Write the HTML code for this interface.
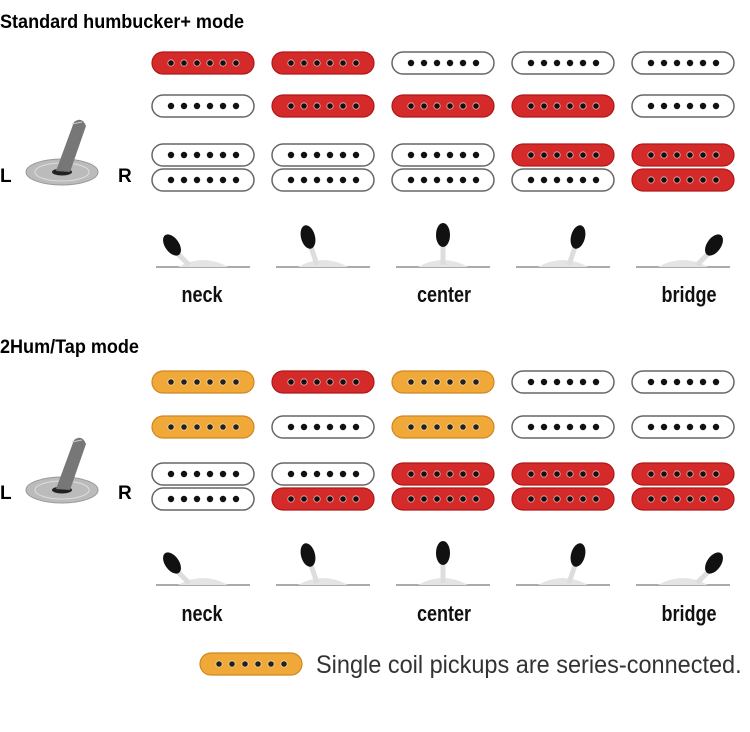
<!DOCTYPE html>
<html><head><style>
body{margin:0;background:#fff;}
svg text{font-family:"Liberation Sans",sans-serif;}
</style></head><body>
<svg width="750" height="727" viewBox="0 0 750 727" xmlns="http://www.w3.org/2000/svg">
<defs>
<g id="dots">
<circle cx="20" cy="12" r="3.2"/><circle cx="33" cy="12" r="3.2"/><circle cx="46" cy="12" r="3.2"/><circle cx="59" cy="12" r="3.2"/><circle cx="72" cy="12" r="3.2"/><circle cx="85" cy="12" r="3.2"/>
</g>
<g id="pw"><rect x="1" y="1" width="102" height="22" rx="11" fill="#fff" stroke="#666" stroke-width="1.5"/><use href="#dots" fill="#111"/></g>
<g id="pr"><rect x="1" y="1" width="102" height="22" rx="11" fill="#d42a2a" stroke="#b01818" stroke-width="1.2"/><use href="#dots" fill="#111" stroke="#f0b0b0" stroke-width="0.8"/></g>
<g id="po"><rect x="1" y="1" width="102" height="22" rx="11" fill="#f0a838" stroke="#d08820" stroke-width="1.2"/><use href="#dots" fill="#222" stroke="#f8d8a0" stroke-width="0.8"/></g>
<g id="bigtog">
<ellipse cx="0" cy="0" rx="36" ry="13" fill="#bbb" stroke="#999"/>
<ellipse cx="0" cy="0" rx="27" ry="9" fill="none" stroke="#ddd"/>
<ellipse cx="0" cy="0" rx="10" ry="3.5" fill="#222"/>
<path d="M-6,-1 L12,-50 Q20,-56 24,-46 L8,0 Z" fill="#777"/>
<path d="M10,-48 L20,-50" stroke="#ccc"/>
</g>
<g id="stbase">
<line x1="-47" y1="0" x2="47" y2="0" stroke="#aaa" stroke-width="2"/>
<path d="M-25,0 Q0,-14 25,0 Z" fill="#e4e4e4"/>
</g>
</defs>

<text x="0" y="28" font-size="19" font-weight="bold" transform="scale(0.95,1)">Standard humbucker+ mode</text>
<text x="0" y="353" font-size="19" font-weight="bold" transform="scale(0.95,1)">2Hum/Tap mode</text>

<!-- top grid -->
<use href="#pr" x="151" y="51"/><use href="#pr" x="271" y="51"/><use href="#pw" x="391" y="51"/><use href="#pw" x="511" y="51"/><use href="#pw" x="631" y="51"/>
<use href="#pw" x="151" y="94"/><use href="#pr" x="271" y="94"/><use href="#pr" x="391" y="94"/><use href="#pr" x="511" y="94"/><use href="#pw" x="631" y="94"/>
<use href="#pw" x="151" y="143"/><use href="#pw" x="271" y="143"/><use href="#pw" x="391" y="143"/><use href="#pr" x="511" y="143"/><use href="#pr" x="631" y="143"/>
<use href="#pw" x="151" y="168"/><use href="#pw" x="271" y="168"/><use href="#pw" x="391" y="168"/><use href="#pw" x="511" y="168"/><use href="#pr" x="631" y="168"/>

<!-- bottom grid -->
<use href="#po" x="151" y="370"/><use href="#pr" x="271" y="370"/><use href="#po" x="391" y="370"/><use href="#pw" x="511" y="370"/><use href="#pw" x="631" y="370"/>
<use href="#po" x="151" y="415"/><use href="#pw" x="271" y="415"/><use href="#po" x="391" y="415"/><use href="#pw" x="511" y="415"/><use href="#pw" x="631" y="415"/>
<use href="#pw" x="151" y="462"/><use href="#pw" x="271" y="462"/><use href="#pr" x="391" y="462"/><use href="#pr" x="511" y="462"/><use href="#pr" x="631" y="462"/>
<use href="#pw" x="151" y="487"/><use href="#pr" x="271" y="487"/><use href="#pr" x="391" y="487"/><use href="#pr" x="511" y="487"/><use href="#pr" x="631" y="487"/>

<!-- big toggles -->
<use href="#bigtog" x="62" y="172"/>
<use href="#bigtog" x="62" y="490"/>
<text x="0" y="182" font-size="19" font-weight="bold">L</text>
<text x="118" y="182" font-size="19" font-weight="bold">R</text>
<text x="0" y="499" font-size="19" font-weight="bold">L</text>
<text x="118" y="499" font-size="19" font-weight="bold">R</text>

<!-- small toggles -->
<g id="row1">
<g transform="translate(203,267)"><use href="#stbase"/><path d="M-14,-2 L-26,-14" stroke="#ddd" stroke-width="5"/><ellipse cx="-31" cy="-22" rx="7" ry="12" transform="rotate(-35 -31 -22)" fill="#111"/></g>
<g transform="translate(323,267)"><use href="#stbase"/><path d="M-6,-2 L-12,-20" stroke="#ddd" stroke-width="5"/><ellipse cx="-15" cy="-30" rx="7" ry="12" transform="rotate(-15 -15 -30)" fill="#111"/></g>
<g transform="translate(443,267)"><use href="#stbase"/><path d="M0,-2 L0,-20" stroke="#ddd" stroke-width="5"/><ellipse cx="0" cy="-32" rx="7" ry="12" fill="#111"/></g>
<g transform="translate(563,267)"><use href="#stbase"/><path d="M6,-2 L12,-20" stroke="#ddd" stroke-width="5"/><ellipse cx="15" cy="-30" rx="7" ry="12" transform="rotate(15 15 -30)" fill="#111"/></g>
<g transform="translate(683,267)"><use href="#stbase"/><path d="M14,-2 L26,-14" stroke="#ddd" stroke-width="5"/><ellipse cx="31" cy="-22" rx="7" ry="12" transform="rotate(35 31 -22)" fill="#111"/></g>
</g>
<use href="#row1" y="318"/>

<g font-size="22" font-weight="bold" text-anchor="middle" fill="#111">
<text transform="translate(202,302) scale(0.82,1)">neck</text><text transform="translate(444,302) scale(0.82,1)">center</text><text transform="translate(689,302) scale(0.82,1)">bridge</text>
<text transform="translate(202,621) scale(0.82,1)">neck</text><text transform="translate(444,621) scale(0.82,1)">center</text><text transform="translate(689,621) scale(0.82,1)">bridge</text>
</g>

<use href="#po" x="199" y="652"/>
<text font-size="25" fill="#333" transform="translate(316,673) scale(0.94,1)">Single coil pickups are series-connected.</text>
</svg>
</body></html>
